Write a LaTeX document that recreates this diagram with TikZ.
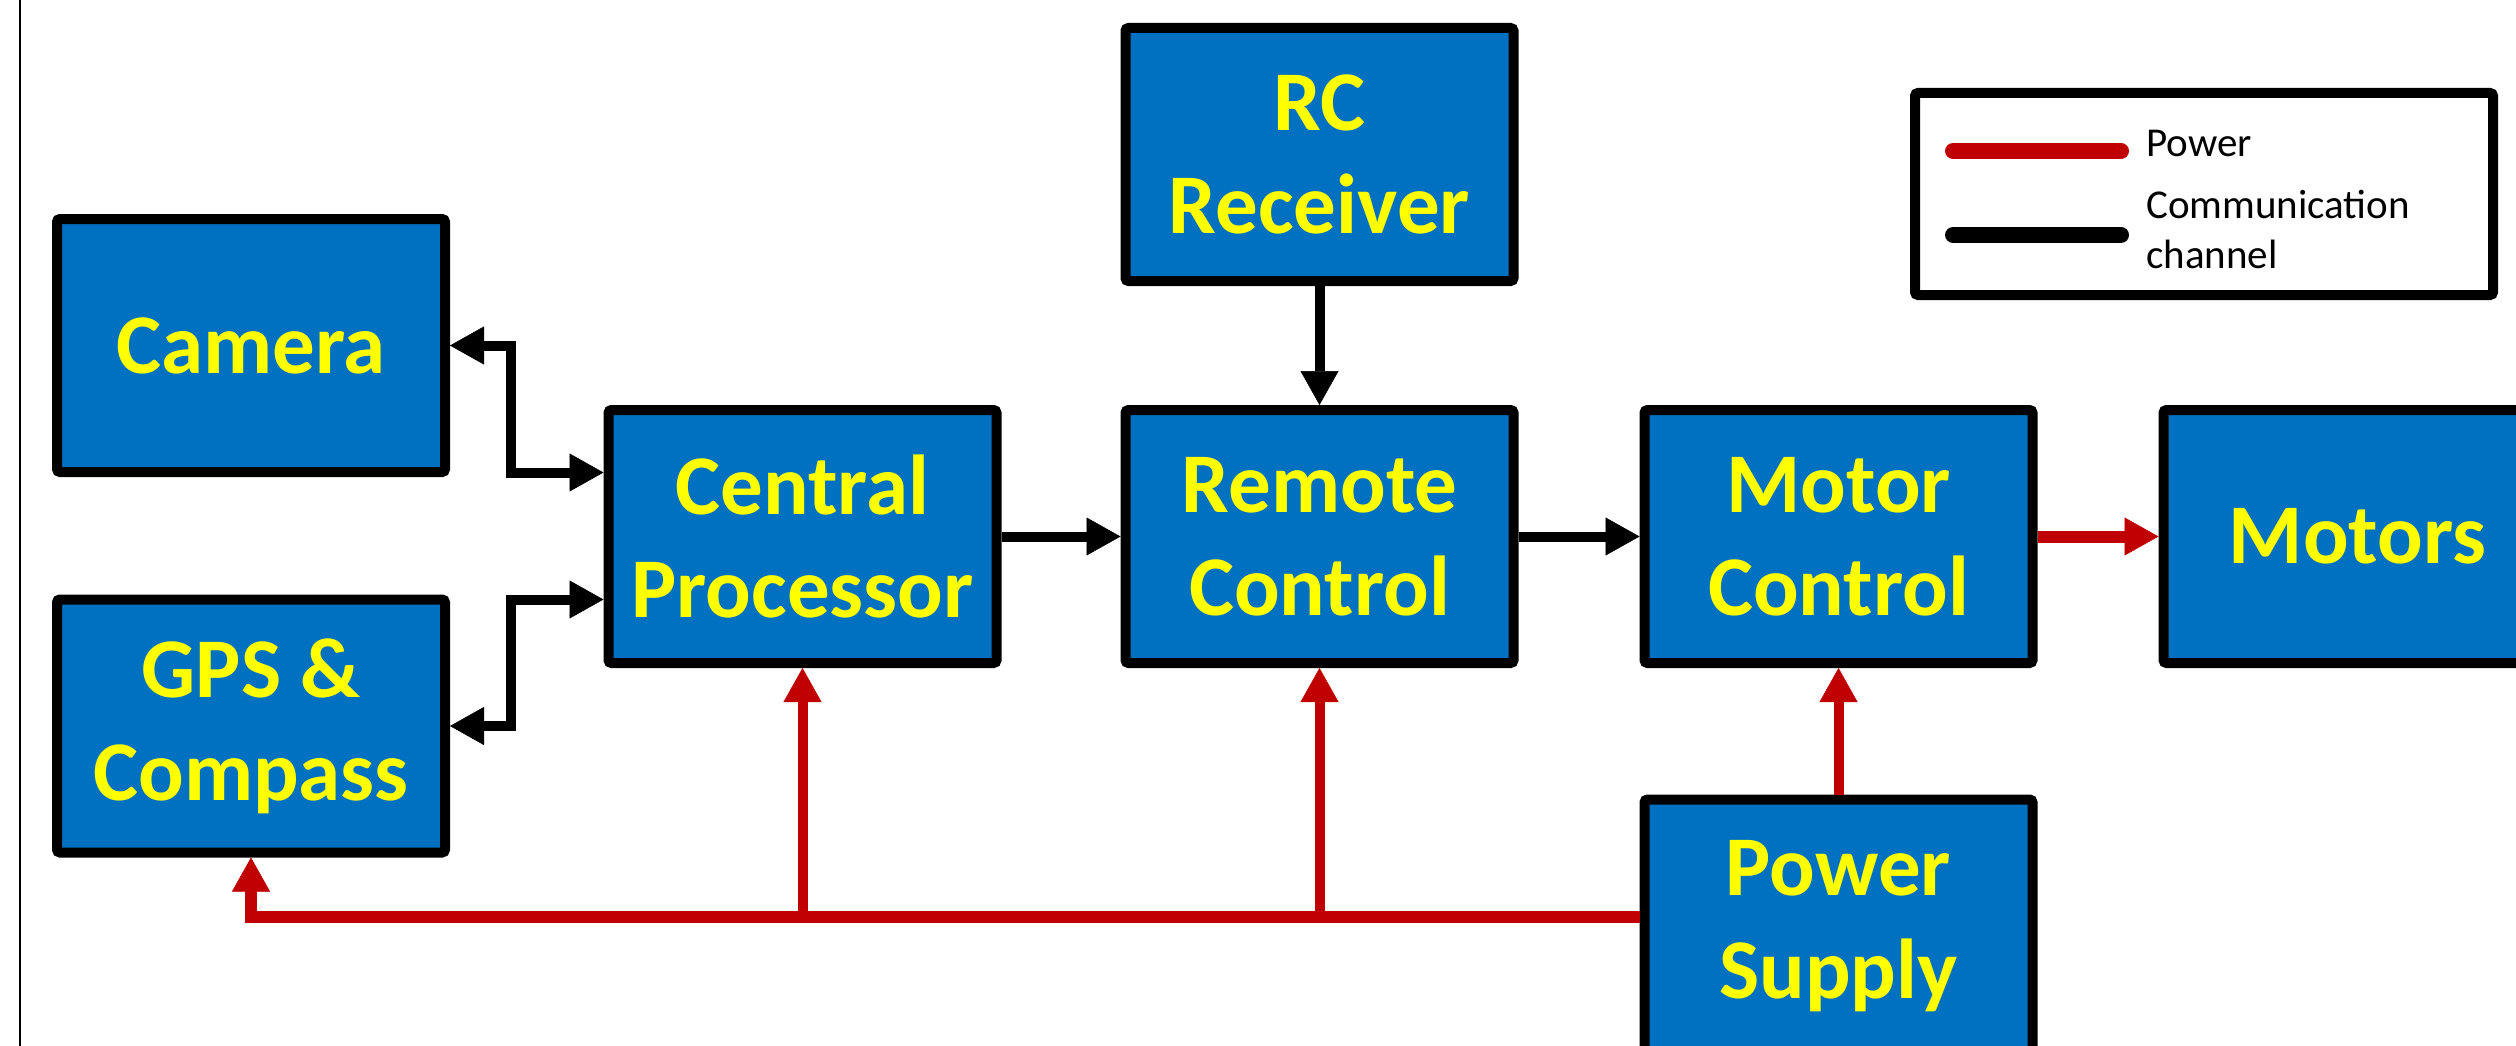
\documentclass[tikz,border=0pt]{standalone}
\usepackage{fontspec}
\setmainfont{Carlito}
\usetikzlibrary{arrows.meta,calc}
\definecolor{boxblue}{RGB}{0,112,192}
\definecolor{pwrred}{RGB}{192,0,0}
\definecolor{txtyellow}{RGB}{255,255,0}
\begin{document}
\begin{tikzpicture}[x=1pt,y=-1pt,
  block/.style={draw=black, line width=10pt, fill=boxblue, rounded corners=3pt,
    minimum width=388pt, minimum height=253pt, inner sep=0pt, outer sep=5pt,
    align=center, text=txtyellow,
    font=\bfseries\fontsize{85pt}{103pt}\selectfont},
  tipc/.tip={Triangle[length=34pt,width=38pt,line width=0.5pt]},
  comm/.style={draw=black, line width=10pt, line join=miter},
  pwr/.style={draw=pwrred, line width=12pt, line join=miter},
  pwrbr/.style={draw=pwrred, line width=10pt},
  legtext/.style={anchor=base west, inner sep=0pt, text=black,
    font=\fontsize{41pt}{50pt}\selectfont},
]
\useasboundingbox (0,0) rectangle (2516,1046);
\clip (0,0) rectangle (2516,1046);
\fill[white] (0,0) rectangle (2516,1046);

% frame line on the left
\draw[line width=2pt] (20,0) -- (20,1046);

% blocks
\node[block] (cam) at (251,345.5) {Camera};
\node[block] (gps) at (251,726) {GPS \&\\Compass};
\node[block] (cpu) at (802.5,536.5) {Central\\Processor};
\node[block] (rc)  at (1319.5,154.5) {RC\\Receiver};
\node[block] (rem) at (1319.5,536.5) {Remote\\Control};
\node[block] (mc)  at (1838.5,536.5) {Motor\\Control};
\node[block] (mot) at (2357.5,536.5) {Motors};
\node[block] (ps)  at (1838.5,926) {Power\\Supply};

% communication channels
\draw[comm,tipc-tipc] ($(cpu.west)+(0,-64)$) -- ++(-93,0) |- (cam.east);
\draw[comm,tipc-tipc] ($(cpu.west)+(0,63)$) -- ++(-93,0) |- (gps.east);
\draw[comm,-tipc] (cpu.east) -- (rem.west);
\draw[comm,-tipc] (rc.south) -- (rem.north);
\draw[comm,-tipc] (rem.east) -- (mc.west);

% power distribution
\draw[pwr,-tipc] (mc.east) -- (mot.west);
\draw[pwrbr,-tipc] (ps.north) -- (mc.south);
\coordinate (feed) at ($(ps.west)+(0,-9)$);
\draw[pwr,-tipc] (feed) -| (gps.south);
\coordinate (j1) at (cpu.south |- feed);
\coordinate (j2) at (rem.south |- feed);
\draw[pwrbr,-tipc] (j1) -- (cpu.south);
\draw[pwrbr,-tipc] (j2) -- (rem.south);

% legend
\node[draw=black, line width=10pt, fill=white, rounded corners=3pt,
      minimum width=578pt, minimum height=202pt, inner sep=0pt] (leg) at (2204,194) {};
\draw[pwrred, line width=16pt, line cap=round] (1953,151) -- (2121,151);
\draw[black, line width=16pt, line cap=round] (1953,235) -- (2121,235);
\node[legtext] (lp)  at (2146,157) {Power};
\node[legtext] (lc)  at (2146,218) {Communication};
\node[legtext] (lch) at (2146,268) {channel};
\end{tikzpicture}
\end{document}
